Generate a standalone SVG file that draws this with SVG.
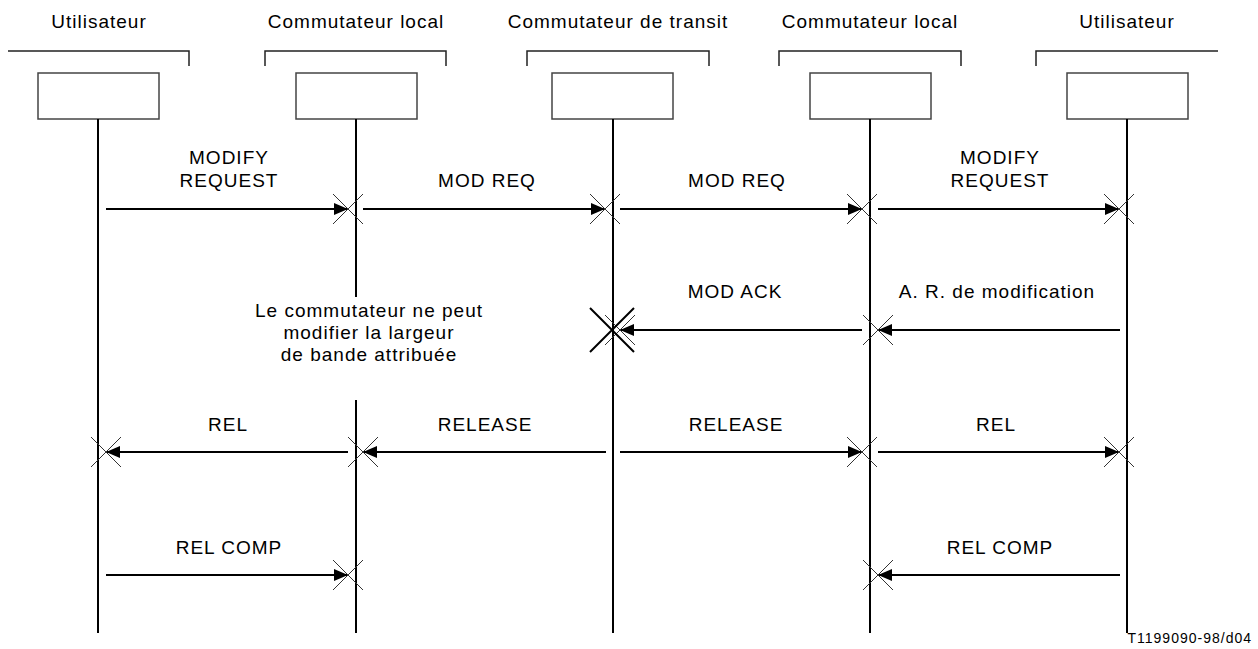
<svg xmlns="http://www.w3.org/2000/svg" width="1258" height="649" viewBox="0 0 1258 649">
  <style>
    text { font-family: "Liberation Sans", Arial, sans-serif; font-size: 19px; letter-spacing: 1px; fill: #000; }
    .mid { text-anchor: middle; }
    .bracket { fill: none; stroke: #222; stroke-width: 1.5; }
    .box { fill: #fff; stroke: #444; stroke-width: 1.5; }
    .life { stroke: #000; stroke-width: 2; fill: none; }
    .msg { stroke: #000; stroke-width: 2; fill: none; marker-end: url(#ah); }
    .xm { stroke: #333; stroke-width: 1; fill: none; }
    .xbig { stroke: #000; stroke-width: 2; fill: none; }
    .foot { font-size: 14px; text-anchor: end; }
  </style>
  <defs>
    <marker id="ah" markerUnits="userSpaceOnUse" markerWidth="14" markerHeight="12" refX="14" refY="6" orient="auto">
      <path d="M0,0 L14,6 L0,12 z" fill="#000"/>
    </marker>
    <path id="x" d="M-15,-15 L15,15 M15,-15 L-15,15"/>
  </defs>
  <rect width="1258" height="649" fill="#fff"/>

  <g id="node-utilisateur-1">
    <text class="mid" x="99" y="28">Utilisateur</text>
    <path class="bracket" d="M8,51 H189 V66"/>
    <rect class="box" x="38" y="73" width="121" height="46"/>
    <line class="life" x1="98" y1="119" x2="98" y2="633"/>
  </g>
  <g id="node-commutateur-local-1">
    <text class="mid" x="356" y="28">Commutateur local</text>
    <path class="bracket" d="M265,66 V51 H446 V66"/>
    <rect class="box" x="296" y="73" width="121" height="46"/>
    <line class="life" x1="356" y1="119" x2="356" y2="297"/>
    <line class="life" x1="356" y1="400" x2="356" y2="633"/>
  </g>
  <g id="node-commutateur-transit">
    <text class="mid" x="618" y="28">Commutateur de transit</text>
    <path class="bracket" d="M527,66 V51 H709 V66"/>
    <rect class="box" x="552" y="73" width="121" height="46"/>
    <line class="life" x1="613" y1="119" x2="613" y2="633"/>
  </g>
  <g id="node-commutateur-local-2">
    <text class="mid" x="870" y="28">Commutateur local</text>
    <path class="bracket" d="M779,66 V51 H961 V66"/>
    <rect class="box" x="810" y="73" width="121" height="46"/>
    <line class="life" x1="870" y1="119" x2="870" y2="633"/>
  </g>
  <g id="node-utilisateur-2">
    <text class="mid" x="1127" y="28">Utilisateur</text>
    <path class="bracket" d="M1036,66 V51 H1218"/>
    <rect class="box" x="1067" y="73" width="121" height="46"/>
    <line class="life" x1="1127" y1="119" x2="1127" y2="633"/>
  </g>

  <g id="note">
    <text class="mid" x="369" y="317">Le commutateur ne peut</text>
    <text class="mid" x="369" y="339">modifier la largeur</text>
    <text class="mid" x="369" y="361">de bande attribuée</text>
  </g>

  <g id="connectors">
    <!-- Row 1 -->
    <text class="mid" x="229" y="164">MODIFY</text>
    <text class="mid" x="229" y="187">REQUEST</text>
    <line class="msg" x1="106" y1="209" x2="348" y2="209"/>
    <use href="#x" class="xm" x="348" y="209"/>
    <text class="mid" x="487" y="187">MOD REQ</text>
    <line class="msg" x1="363" y1="209" x2="605" y2="209"/>
    <use href="#x" class="xm" x="605" y="209"/>
    <text class="mid" x="737" y="187">MOD REQ</text>
    <line class="msg" x1="620" y1="209" x2="862" y2="209"/>
    <use href="#x" class="xm" x="862" y="209"/>
    <text class="mid" x="1000" y="164">MODIFY</text>
    <text class="mid" x="1000" y="187">REQUEST</text>
    <line class="msg" x1="878" y1="209" x2="1119" y2="209"/>
    <use href="#x" class="xm" x="1119" y="209"/>

    <!-- Row 2 -->
    <text class="mid" x="735" y="298">MOD ACK</text>
    <line class="msg" x1="862" y1="330" x2="620" y2="330"/>
    <use href="#x" class="xm" x="620" y="330"/>
    <path class="xbig" d="M590,308 L634,352 M634,308 L590,352"/>
    <text class="mid" x="997" y="298">A. R. de modification</text>
    <line class="msg" x1="1120" y1="330" x2="878" y2="330"/>
    <use href="#x" class="xm" x="878" y="330"/>

    <!-- Row 3 -->
    <text class="mid" x="228" y="431">REL</text>
    <line class="msg" x1="348" y1="452" x2="106" y2="452"/>
    <use href="#x" class="xm" x="106" y="452"/>
    <text class="mid" x="485" y="431">RELEASE</text>
    <line class="msg" x1="606" y1="452" x2="363" y2="452"/>
    <use href="#x" class="xm" x="363" y="452"/>
    <text class="mid" x="736" y="431">RELEASE</text>
    <line class="msg" x1="620" y1="452" x2="862" y2="452"/>
    <use href="#x" class="xm" x="862" y="452"/>
    <text class="mid" x="996" y="431">REL</text>
    <line class="msg" x1="878" y1="452" x2="1119" y2="452"/>
    <use href="#x" class="xm" x="1119" y="452"/>

    <!-- Row 4 -->
    <text class="mid" x="229" y="554">REL COMP</text>
    <line class="msg" x1="106" y1="575" x2="348" y2="575"/>
    <use href="#x" class="xm" x="348" y="575"/>
    <text class="mid" x="1000" y="554">REL COMP</text>
    <line class="msg" x1="1120" y1="575" x2="878" y2="575"/>
    <use href="#x" class="xm" x="878" y="575"/>
  </g>

  <text class="foot" x="1252" y="643">T1199090-98/d04</text>
</svg>
